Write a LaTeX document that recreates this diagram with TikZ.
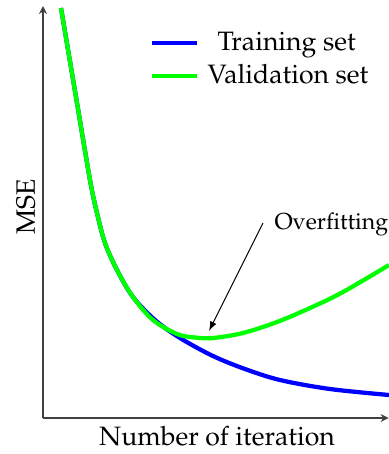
\documentclass[tikz,border=0pt]{standalone}
\usepackage[T1]{fontenc}
\usepackage{mathpazo}
\usetikzlibrary{arrows.meta}

\definecolor{trainblue}{RGB}{0,0,255}
\definecolor{validgreen}{RGB}{0,255,0}

\tikzset{
  axisline/.style={line width=0.6pt, draw=black!75, -{Stealth[length=3pt,width=3pt]}},
  curve/.style={line width=1.6pt, smooth, tension=0.55},
  labeltext/.style={inner sep=0pt, font=\fontsize{10}{12}\selectfont},
  pointer/.style={line width=0.4pt, -{Latex[length=3.6pt,width=2.6pt]}},
}

\begin{document}
\begin{tikzpicture}[x=0.376pt, y=-0.376pt]
  \useasboundingbox (0,0) rectangle (389,454);

  % axes
  \coordinate (origin) at (43,418);
  \coordinate (ytop) at (43,6);
  \coordinate (xend) at (388.6,418);
  \draw[axisline] (origin) -- (ytop);
  \draw[axisline] (origin) -- (xend);

  % axis labels
  \node[labeltext, anchor=base] (xlabel) at (217,445) {Number of iteration};
  \node[labeltext, anchor=base, rotate=90] (ylabel) at (35,207) {MSE};

  % training error
  \draw[curve, draw=trainblue] plot coordinates {
    (61,8) (76.5,100) (90,180) (97,213) (105,243) (117,270) (133,297)
    (155,320) (180,338) (213,356) (245,369) (280,380) (330,389) (389,395)};

  % validation error
  \draw[curve, draw=validgreen] plot coordinates {
    (61,8) (76.5,100) (90,180) (97,213) (105,243) (117,270) (133,297)
    (153,320) (177,334) (195,337.5) (213,338) (243,333) (277,322)
    (310,308) (343,292) (389,265)};

  % legend
  \coordinate (lb1) at (152,43);
  \coordinate (lb2) at (197,43);
  \coordinate (lg1) at (152,76);
  \coordinate (lg2) at (197,76);
  \draw[line width=1.6pt, trainblue] (lb1) -- (lb2);
  \draw[line width=1.6pt, validgreen] (lg1) -- (lg2);
  \node[labeltext, anchor=base west] (train) at (217,50) {Training set};
  \node[labeltext, anchor=base west] (valid) at (207,83) {Validation set};

  % overfitting annotation
  \node[labeltext, anchor=base west, font=\fontsize{8.7}{10}\selectfont] (over) at (274,229) {Overfitting};
  \coordinate (overtail) at (263,223);
  \coordinate (overtip) at (209,331);
  \draw[pointer] (overtail) -- (overtip);
\end{tikzpicture}
\end{document}
